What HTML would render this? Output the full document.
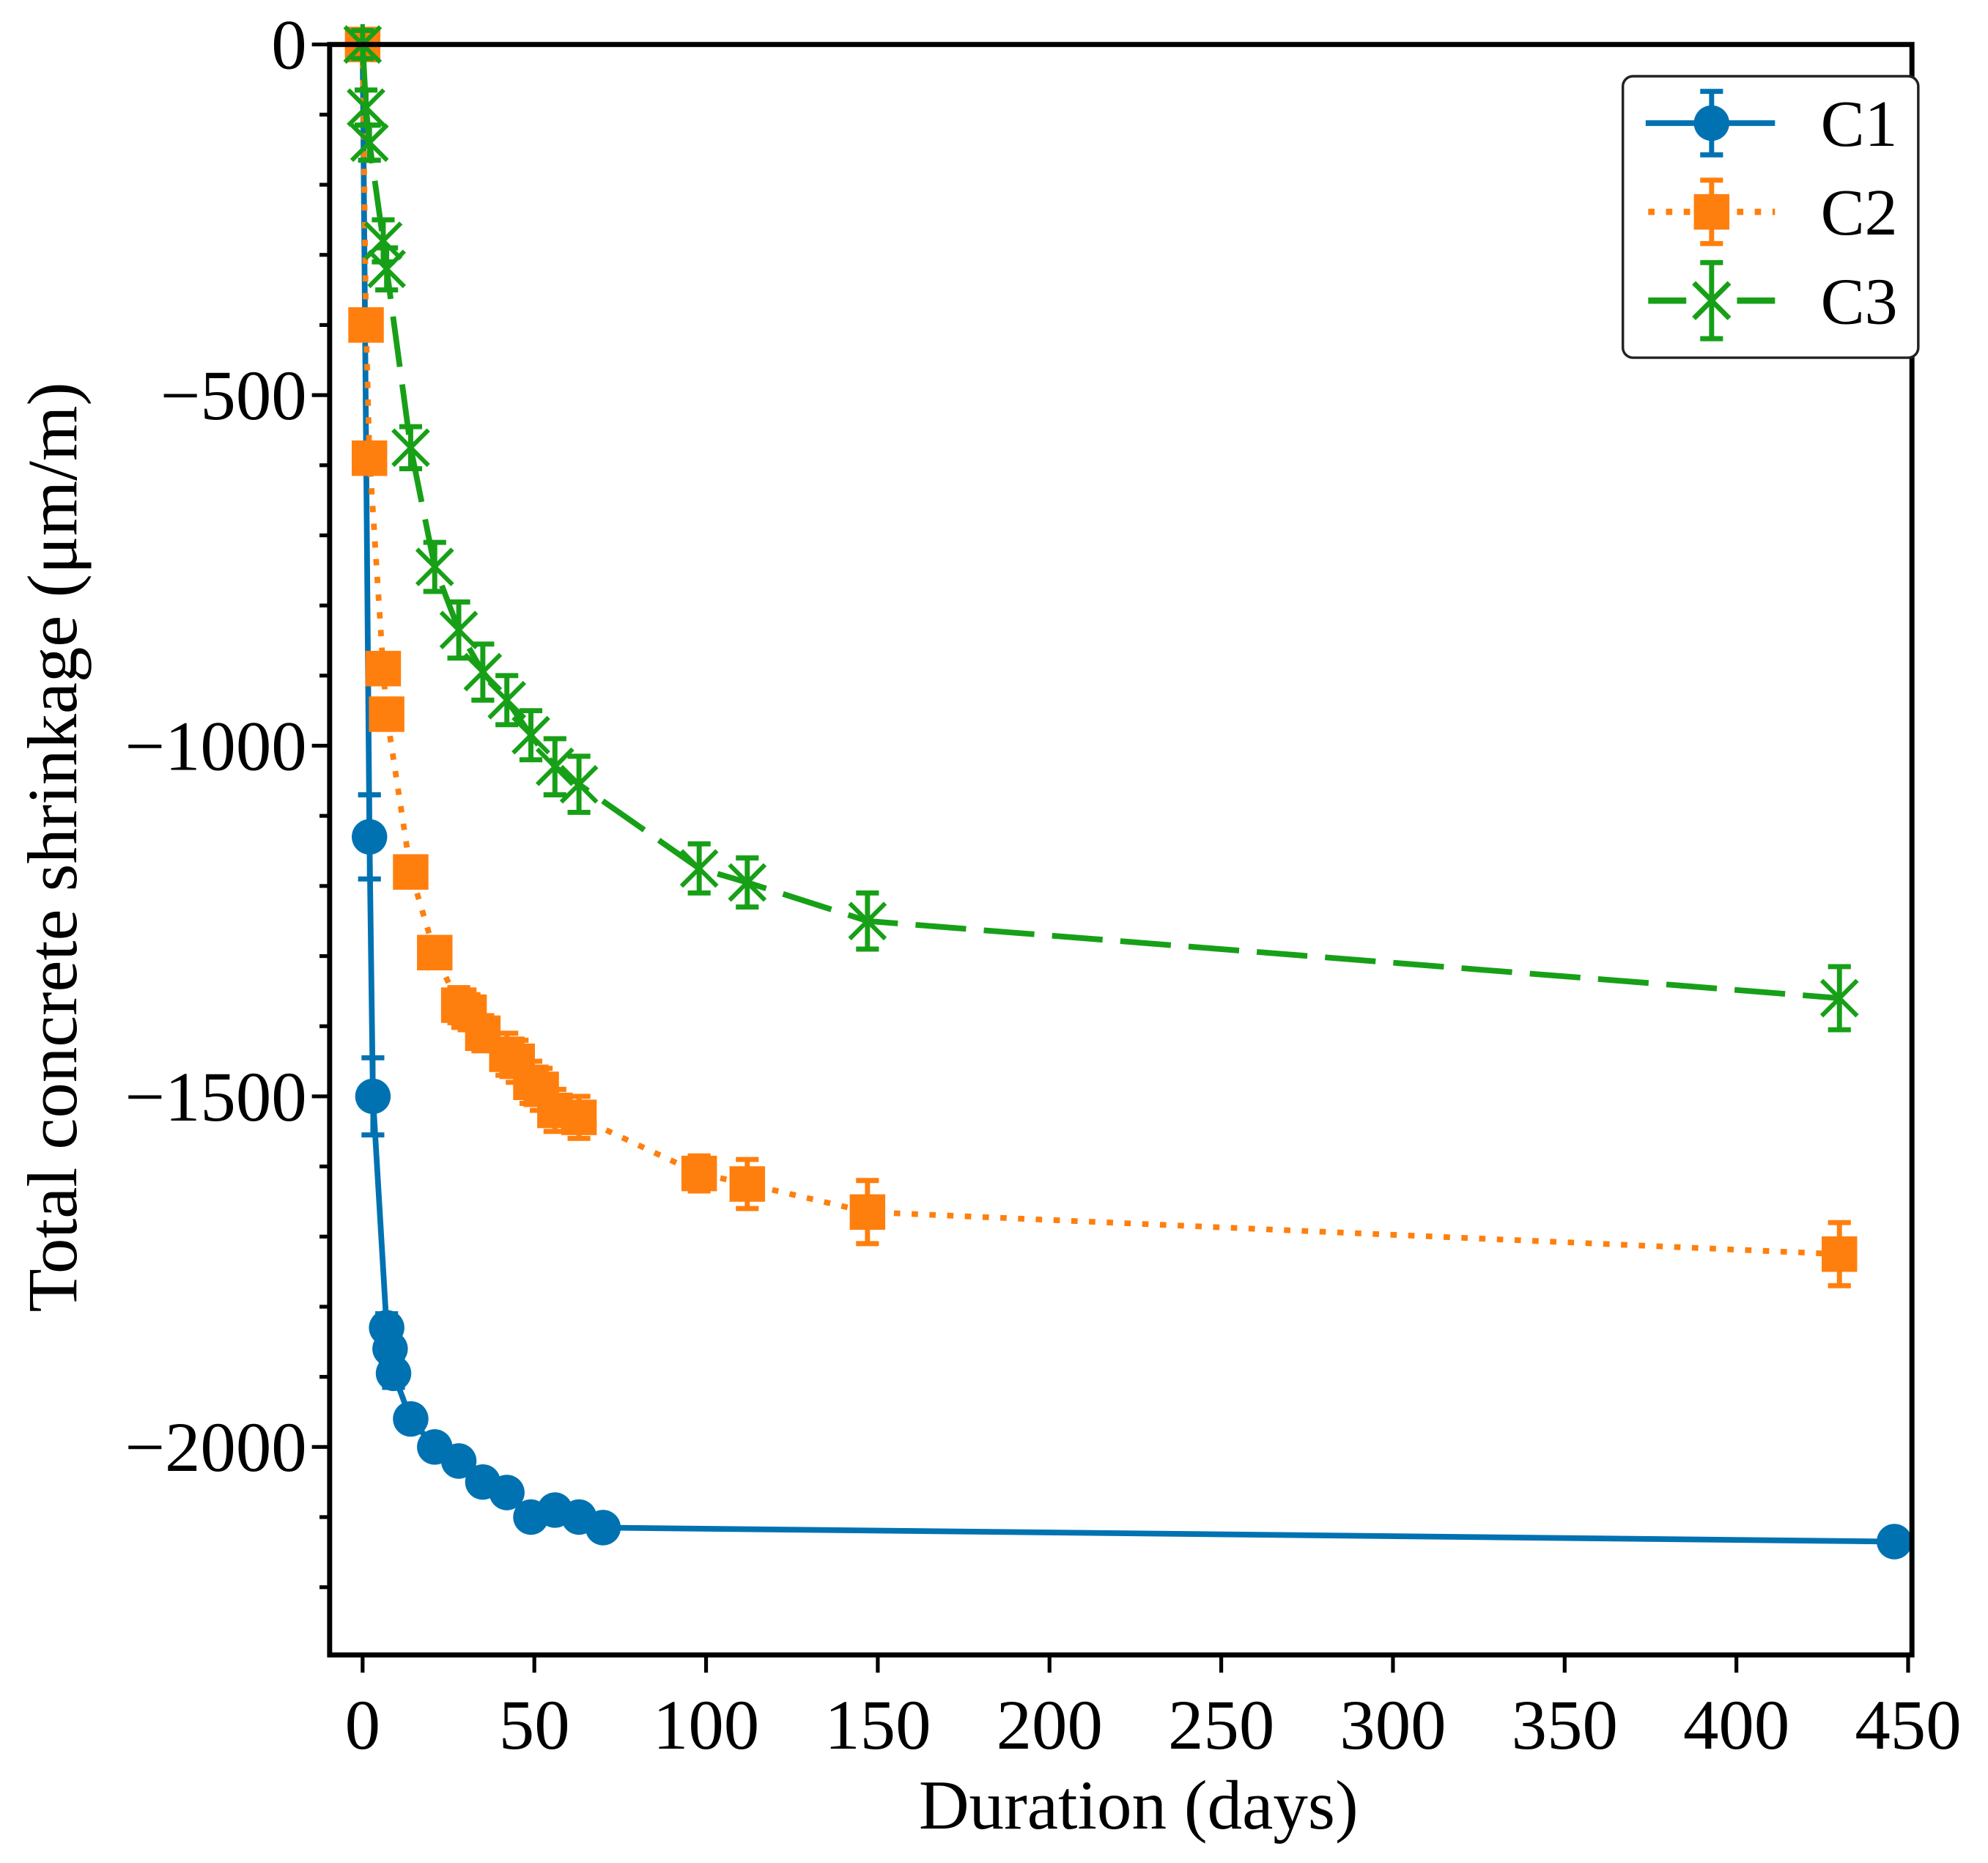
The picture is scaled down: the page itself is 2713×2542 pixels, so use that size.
<!DOCTYPE html>
<html><head><meta charset="utf-8"><style>
html,body{margin:0;padding:0;background:#fff}
svg{display:block}
text{font-family:"Liberation Serif",serif;fill:#000}
</style></head><body>
<svg id="chart" width="2713" height="2542" viewBox="0 0 1568 1469" xmlns="http://www.w3.org/2000/svg">
<g id="plot"></g>
</svg>
<script>
const xTicks=[0,50,100,150,200,250,300,350,400,450];
const yTicks=[0,-500,-1000,-1500,-2000];
const yMinor=[-100,-200,-300,-400,-600,-700,-800,-900,-1100,-1200,-1300,-1400,-1600,-1700,-1800,-1900,-2100,-2200];
const c1Days=[0,2,3,7,8,9,14,21,28,35,42,49,56,63,70,446];
const c1Vals=[0,-1130,-1500,-1830,-1860,-1895,-1960,-2000,-2020,-2050,-2065,-2100,-2090,-2100,-2115,-2135];
const c1Err=[0,60,55,20,20,20,15,15,15,15,15,15,15,15,15,10];
const c2Days=[0,1,2,6,7,14,21,28,31,35,42,45,49,52,56,63,98,112,147,430];
const c2Vals=[0,-400,-590,-890,-955,-1180,-1295,-1370,-1380,-1410,-1440,-1450,-1480,-1490,-1520,-1530,-1610,-1625,-1665,-1725];
const c2Err=[0,15,15,20,20,20,20,25,25,25,30,30,30,30,30,30,25,35,45,45];
const c3Days=[0,1,2,6,7,14,21,28,35,42,49,56,63,98,112,147,430];
const c3Vals=[0,-90,-140,-280,-320,-575,-745,-835,-895,-935,-985,-1030,-1055,-1175,-1195,-1250,-1360];
const c3Err=[20,25,25,30,30,30,35,40,40,35,35,40,40,35,35,40,45];

const L=260,R=1508,T=35,B=1305;
const X=d=>286+d*(1219/450);
const Y=v=>35+v*(-553/1000);
const NS='http://www.w3.org/2000/svg';
const g=document.getElementById('plot');
function mk(tag,attrs,parent){const e=document.createElementNS(NS,tag);for(const k in attrs)e.setAttribute(k,attrs[k]);(parent||g).appendChild(e);return e;}

xTicks.forEach(t=>{
  const tk=mk('line',{x1:X(t),x2:X(t),y1:B,y2:B+14,stroke:'#000','stroke-width':3});
  
  
  const lb=mk('text',{x:X(t),y:B+74,'font-size':56,'text-anchor':'middle'});
  lb.textContent=t;
  
  
});
yTicks.forEach(t=>{
  const tk=mk('line',{x1:L-14,x2:L,y1:Y(t),y2:Y(t),stroke:'#000','stroke-width':3});
  
  
  const lb=mk('text',{x:L-18,y:Y(t)+19,'font-size':56,'text-anchor':'end'});
  lb.textContent=t===0?'0':'\u2212'+Math.abs(t);
  
  
});
yMinor.forEach(t=>{
  const tk=mk('line',{x1:L-8,x2:L,y1:Y(t),y2:Y(t),stroke:'#000','stroke-width':3});
  
  
});

function series(name,days,vals,errs,color,dash,marker){
  const sg=mk('g',{});
  
  
  const pts=days.map((d,i)=>X(d)+','+Y(vals[i])).join(' ');
  const pl=mk('polyline',{points:pts,fill:'none',stroke:color,'stroke-width':4.5,'stroke-dasharray':dash,'stroke-linejoin':'round'},sg);
  
  
  days.forEach((d,i)=>{
    const x=X(d),y=Y(vals[i]),e=errs[i]*0.553;
    const eb=mk('path',{d:`M${x},${y-e}V${y+e}M${x-9},${y-e}H${x+9}M${x-9},${y+e}H${x+9}`,stroke:color,'stroke-width':4,fill:'none'},sg);
    
    
    let m;
    if(marker==='o') m=mk('circle',{cx:x,cy:y,r:14,fill:color},sg);
    else if(marker==='s') m=mk('rect',{x:x-14,y:y-14,width:28,height:28,fill:color},sg);
    else m=mk('path',{d:`M${x-14},${y-14}L${x+14},${y+14}M${x-14},${y+14}L${x+14},${y-14}M${x},${y-16}V${y+16}`,stroke:color,'stroke-width':3.5,fill:'none'},sg);
    
    
  });
}
series('c1',c1Days,c1Vals,c1Err,'#0072B2','none','o');
series('c2',c2Days,c2Vals,c2Err,'#FF7F0E','5 9','s');
series('c3',c3Days,c3Vals,c3Err,'#17A017','40 14','x');
const fr=mk('rect',{x:L,y:T,width:R-L,height:B-T,fill:'none',stroke:'#000','stroke-width':4});


</script>
<svg style="position:absolute;left:0;top:0" width="2713" height="2542" viewBox="0 0 1568 1469" xmlns="http://www.w3.org/2000/svg">
<text x="898" y="1442" font-size="55" text-anchor="middle">Duration (days)</text>
<text transform="translate(60,668) rotate(-90)" font-size="56" text-anchor="middle">Total concrete shrinkage (μm/m)</text>
<g>
<rect x="1280" y="60" width="233" height="222" rx="8" fill="#fff" stroke="#222" stroke-width="2"/>
<g>
<line x1="1298" y1="97" x2="1400" y2="97" stroke="#0072B2" stroke-width="4.5"/>
<path d="M1350,72V122M1341,72H1359M1341,122H1359" stroke="#0072B2" stroke-width="4"/>
<circle cx="1350" cy="97" r="14" fill="#0072B2"/>
<text x="1436" y="115" font-size="52">C1</text></g>
<g>
<line x1="1300" y1="167" x2="1400" y2="167" stroke="#FF7F0E" stroke-width="5" stroke-dasharray="5 9"/>
<path d="M1350,142V192M1341,142H1359M1341,192H1359" stroke="#FF7F0E" stroke-width="4"/>
<rect x="1336" y="153" width="28" height="28" fill="#FF7F0E"/>
<text x="1436" y="185" font-size="52">C2</text></g>
<g>
<path d="M1300,237H1330M1370,237H1400" stroke="#17A017" stroke-width="5"/>
<path d="M1350,207V267M1341,207H1359M1341,267H1359M1336,223L1364,251M1336,251L1364,223" stroke="#17A017" stroke-width="4"/>
<text x="1436" y="255" font-size="52">C3</text></g>
</g>
</svg>
</body></html>
